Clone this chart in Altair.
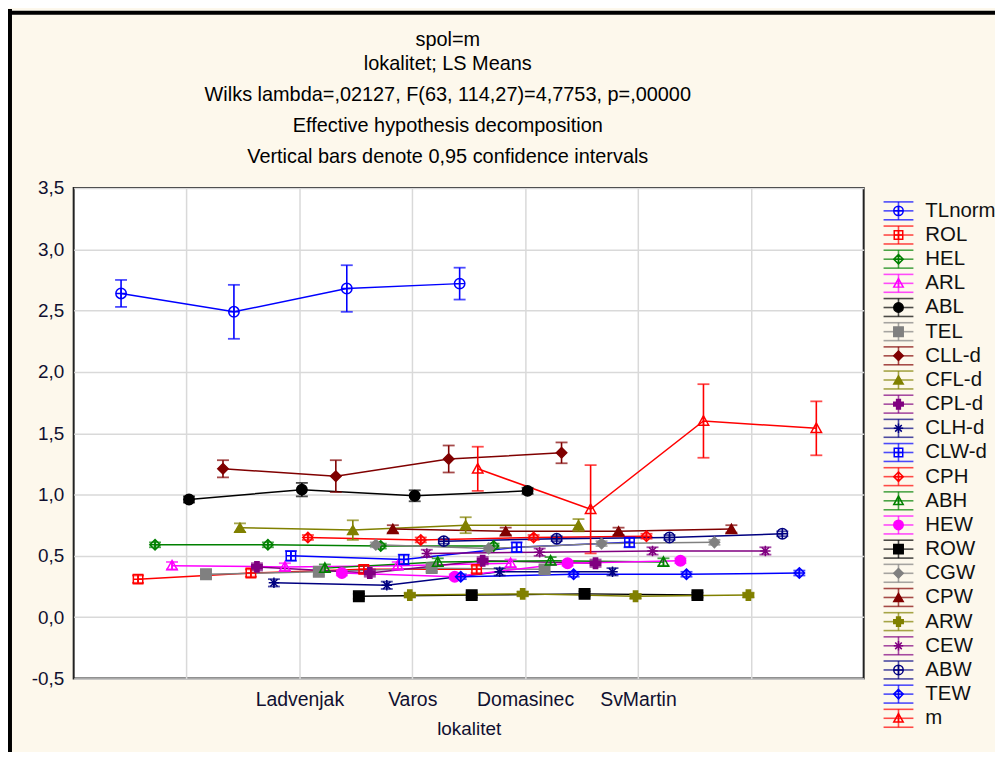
import altair as alt
import pandas as pd

series = ["TLnorm", "ROL", "HEL", "ARL", "ABL", "TEL", "CLL-d", "CFL-d", "CPL-d", "CLH-d", "CLW-d",
          "CPH", "ABH", "HEW", "ROW", "CGW", "CPW", "ARW", "CEW", "ABW", "TEW", "m"]
sites = ["Ladvenjak", "Varos", "Domasinec", "SvMartin"]

means = {
    "TLnorm": [2.64, 2.49, 2.68, 2.72],
    "ROL":    [0.31, 0.36, 0.39, 0.39],
    "HEL":    [0.59, 0.59, 0.58, 0.58],
    "ARL":    [0.42, 0.41, 0.42, 0.44],
    "ABL":    [0.96, 1.04, 0.99, 1.03],
    "TEL":    [0.35, 0.37, 0.40, 0.39],
    "CLL-d":  [1.21, 1.15, 1.29, 1.34],
    "CFL-d":  [0.73, 0.71, 0.75, 0.75],
    "CPL-d":  [0.41, 0.36, 0.46, 0.44],
    "CLH-d":  [0.28, 0.26, 0.37, 0.37],
    "CLW-d":  [0.50, 0.47, 0.57, 0.61],
    "CPH":    [0.65, 0.63, 0.65, 0.66],
    "ABH":    [0.40, 0.45, 0.46, 0.45],
    "HEW":    [0.36, 0.33, 0.44, 0.46],
    "ROW":    [0.17, 0.18, 0.19, 0.18],
    "CGW":    [0.59, 0.56, 0.60, 0.61],
    "CPW":    [0.72, 0.70, 0.70, 0.72],
    "ARW":    [0.18, 0.19, 0.17, 0.18],
    "CEW":    [0.52, 0.53, 0.54, 0.54],
    "ABW":    [0.62, 0.64, 0.65, 0.68],
    "TEW":    [0.33, 0.35, 0.35, 0.36],
    "m":      [1.21, 0.88, 1.60, 1.54],
}
# half width of the 0.95 confidence interval
ci = {
    "TLnorm": [0.11, 0.22, 0.19, 0.13],
    "ROL":    [0.03, 0.03, 0.03, 0.03],
    "HEL":    [0.02, 0.02, 0.02, 0.02],
    "ARL":    [0.03, 0.03, 0.03, 0.03],
    "ABL":    [0.025, 0.055, 0.045, 0.025],
    "TEL":    [0.03, 0.03, 0.03, 0.03],
    "CLL-d":  [0.07, 0.13, 0.11, 0.085],
    "CFL-d":  [0.035, 0.08, 0.065, 0.05],
    "CPL-d":  [0.03, 0.03, 0.03, 0.03],
    "CLH-d":  [0.03, 0.03, 0.03, 0.03],
    "CLW-d":  [0.04, 0.04, 0.04, 0.04],
    "CPH":    [0.02, 0.02, 0.02, 0.02],
    "ABH":    [0.03, 0.03, 0.03, 0.03],
    "HEW":    [0.02, 0.02, 0.02, 0.02],
    "ROW":    [0.02, 0.02, 0.02, 0.02],
    "CGW":    [0.02, 0.02, 0.02, 0.02],
    "CPW":    [0.03, 0.03, 0.03, 0.03],
    "ARW":    [0.02, 0.02, 0.02, 0.02],
    "CEW":    [0.03, 0.03, 0.03, 0.03],
    "ABW":    [0.02, 0.02, 0.02, 0.02],
    "TEW":    [0.02, 0.02, 0.02, 0.02],
    "m":      [0.18, 0.36, 0.30, 0.22],
}

colors = ["#0000FF", "#FF0000", "#008000", "#FF00FF", "#000000", "#808080", "#800000", "#808000",
          "#800080", "#000080", "#0000FF", "#FF0000", "#008000", "#FF00FF", "#000000", "#808080",
          "#800000", "#808000", "#800080", "#000080", "#0000FF", "#FF0000"]

CIRC_O = "M-1,0A1,1,0,1,1,1,0A1,1,0,1,1,-1,0ZM-1,0L1,0M0,-1L0,1"
SQ_O = "M-0.9,-0.9L0.9,-0.9L0.9,0.9L-0.9,0.9ZM-0.9,0L0.9,0M0,-0.9L0,0.9"
DIA_O = "M0,-1L1,0L0,1L-1,0ZM-1,0L1,0M0,-1L0,1"
TRI_O = "M0,-1L1,0.8L-1,0.8ZM0,-1L0,0.8"
AST = "M-1,0L1,0M0,-1L0,1M-0.7,-0.7L0.7,0.7M-0.7,0.7L0.7,-0.7"
shapes = [CIRC_O, SQ_O, DIA_O, TRI_O, "circle", "square", "diamond", "triangle-up", "cross", AST,
          SQ_O, DIA_O, TRI_O, "circle", "square", "diamond", "triangle-up", "cross", AST,
          CIRC_O, DIA_O, TRI_O]
filled = [False, False, False, False, True, True, True, True, True, False,
          False, False, False, True, True, True, True, True, False,
          False, False, False]
fills = [c if f else "transparent" for c, f in zip(colors, filled)]

rows = []
for i, s in enumerate(series):
    for j in range(len(sites)):
        mval = means[s][j]
        h = ci[s][j]
        rows.append({"series": s, "pos": j + 0.42 + 0.1505 * i, "mean": mval,
                     "lo": mval - h, "hi": mval + h})
df = pd.DataFrame(rows)
legdf = pd.DataFrame({"series": series})

FONT = "Liberation Sans"
W, H = 794, 493

color_enc = alt.Color("series:N", scale=alt.Scale(domain=series, range=colors), legend=None)
shape_enc = alt.Shape("series:N", scale=alt.Scale(domain=series, range=shapes), legend=None)
fill_enc = alt.Fill("series:N", scale=alt.Scale(domain=series, range=fills), legend=None)

label_arr = "[" + ",".join("'" + t + "'" for t in ["", ""] + sites + [""]) + "]"
x_enc = alt.X("pos:Q", scale=alt.Scale(domain=[0, 7], nice=False, zero=False),
              axis=alt.Axis(values=[1, 2, 3, 4, 5, 6], labelExpr=label_arr + "[datum.value]",
                            title="lokalitet", grid=True, ticks=False, domain=False,
                            labelPadding=12, titlePadding=11, labelAngle=0, labelFontSize=19.5))
y_scale = alt.Scale(domain=[-0.5, 3.5], nice=False, zero=False)
y_axis = alt.Axis(values=[-0.5, 0, 0.5, 1, 1.5, 2, 2.5, 3, 3.5],
                  labelExpr="replace(replace(format(datum.value, '.1f'), '.', ','), '\u2212', '-')",
                  title=None, grid=True, ticks=False, domain=False, labelPadding=10)

base = alt.Chart(df)
lines = base.mark_line(strokeWidth=1.5).encode(
    x=x_enc, y=alt.Y("mean:Q", scale=y_scale, axis=y_axis), color=color_enc)
bars = base.mark_rule(strokeWidth=1.6).encode(
    x="pos:Q", y="lo:Q", y2="hi:Q", color=color_enc)
cap_lo = base.mark_tick(orient="horizontal", size=12, thickness=1.8).encode(
    x="pos:Q", y="lo:Q", color=color_enc)
cap_hi = base.mark_tick(orient="horizontal", size=12, thickness=1.8).encode(
    x="pos:Q", y="hi:Q", color=color_enc)
pts = base.mark_point(opacity=1, strokeWidth=1.5, size=110).encode(
    x="pos:Q", y="mean:Q", color=color_enc, shape=shape_enc, fill=fill_enc)
main = alt.layer(lines, bars, cap_lo, cap_hi, pts)

# legend drawn as glyph rows
ly = alt.Y("series:N", sort=series, scale=alt.Scale(type="point", range=[23, 533], padding=0), axis=None)
lbase = alt.Chart(legdf)
LX = 829
lg_top = lbase.mark_tick(orient="horizontal", size=30, thickness=1.6, yOffset=-9).encode(
    x=alt.value(LX), y=ly, color=color_enc)
lg_mid = lbase.mark_tick(orient="horizontal", size=30, thickness=1.6).encode(
    x=alt.value(LX), y=ly, color=color_enc)
lg_bot = lbase.mark_tick(orient="horizontal", size=30, thickness=1.6, yOffset=9).encode(
    x=alt.value(LX), y=ly, color=color_enc)
lg_vert = lbase.mark_tick(orient="vertical", size=18, thickness=1.6).encode(
    x=alt.value(LX), y=ly, color=color_enc)
lg_pt = lbase.mark_point(opacity=1, strokeWidth=1.5, size=90).encode(
    x=alt.value(LX), y=ly, color=color_enc, shape=shape_enc, fill=fill_enc)
lg_txt = lbase.mark_text(align="left", baseline="middle", font=FONT, fontSize=20.5, color="#111111").encode(
    x=alt.value(856), y=ly, text="series:N")
legend = alt.layer(lg_top, lg_mid, lg_bot, lg_vert, lg_pt, lg_txt)

# outer frame of the graph window
frame_data = alt.Data(values=[{"k": 1}])
frame_left = alt.Chart(frame_data).mark_rule(color="black", strokeWidth=4).encode(
    x=alt.value(-64), y=alt.value(-180), y2=alt.value(620))
frame_top = alt.Chart(frame_data).mark_rule(color="black", strokeWidth=4).encode(
    x=alt.value(-70), x2=alt.value(940), y=alt.value(-176))

chart = alt.layer(main, legend, frame_left, frame_top).resolve_scale(y="independent").properties(
    width=W, height=H,
    autosize=alt.AutoSizeParams(type="none"),
    padding={"left": 66, "top": 179, "right": 132, "bottom": 72},
    background="#FDF8EC",
    title=alt.TitleParams(
        text=["spol=m", "lokalitet; LS Means"],
        subtitle=["Wilks lambda=,02127, F(63, 114,27)=4,7753, p=,00000",
                  "Effective hypothesis decomposition",
                  "Vertical bars denote 0,95 confidence intervals"],
        font=FONT, fontSize=20, fontWeight="normal", lineHeight=24, color="black",
        subtitleFont=FONT, subtitleFontSize=20, subtitleLineHeight=31, subtitleColor="black",
        subtitlePadding=12, anchor="middle", frame="group", dx=-21, offset=-161),
).configure_view(fill="white", stroke="#222222", strokeWidth=2).configure_axis(
    labelFont=FONT, labelFontSize=19, labelColor="#101030", titleFont=FONT, titleFontSize=19,
    titleFontWeight="normal", titleColor="#101030", gridColor="#D9D9D9", gridWidth=1.5)

chart.save("out.html", embed_options={"renderer": "svg", "actions": False})
